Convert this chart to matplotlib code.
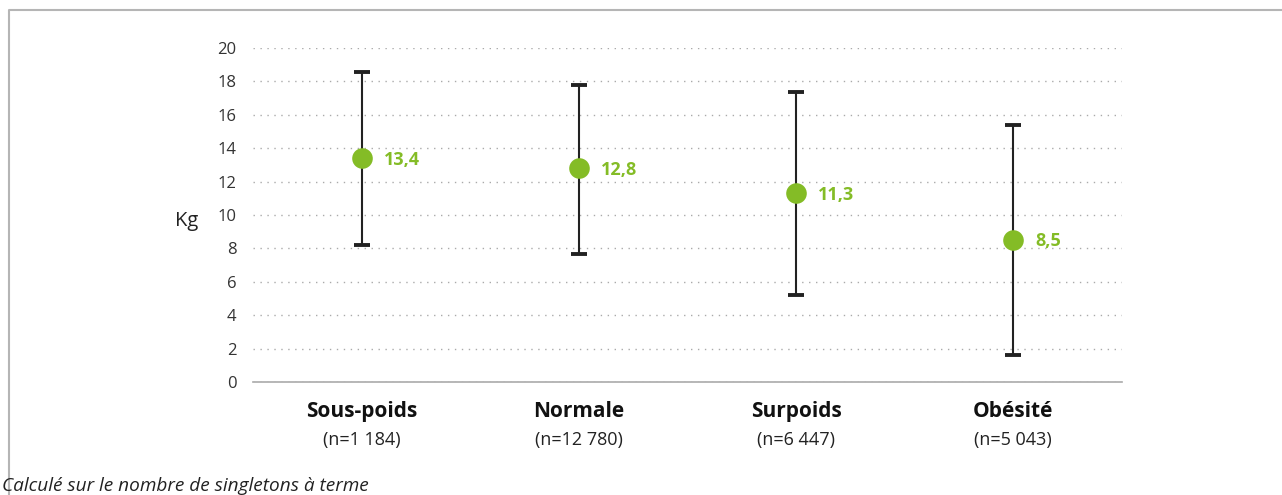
import numpy as np
import matplotlib
matplotlib.use("Agg")
import matplotlib.pyplot as plt
from matplotlib.lines import Line2D

plt.rcParams['font.family'] = ['Open Sans', 'DejaVu Sans']

categories = ['Sous-poids', 'Normale', 'Surpoids', 'Obésité']
counts = ['(n=1 184)', '(n=12 780)', '(n=6 447)', '(n=5 043)']
means = [13.4, 12.8, 11.3, 8.5]
upper = [18.55, 17.8, 17.35, 15.4]
lower = [8.2, 7.65, 5.2, 1.6]
labels = ['13,4', '12,8', '11,3', '8,5']

green = '#84BC26'

fig = plt.figure(figsize=(12.82, 4.95), dpi=100)
ax = fig.add_axes([0.1973, 0.2283, 0.6779, 0.6747])

x = np.arange(len(categories))
means_a = np.array(means)
yerr = [means_a - np.array(lower), np.array(upper) - means_a]
ax.errorbar(x, means, yerr=yerr, fmt='none', ecolor='#222222', elinewidth=1.5,
            capsize=5.8, capthick=2.8, zorder=2)
ax.scatter(x, means, s=220, color=green, zorder=3, linewidths=0)
for xi, m, lab in zip(x, means, labels):
    ax.annotate(lab, (xi, m), xytext=(16, -1), textcoords='offset points',
                color=green, fontsize=13, fontweight='bold', va='center', ha='left')

ax.set_xlim(-0.5, len(categories) - 0.5)
ax.set_ylim(0, 20)
ax.set_yticks(range(0, 21, 2))
ax.set_yticklabels([str(v) for v in range(0, 21, 2)], fontsize=12, color='#333333')
ax.grid(axis='y', linestyle=(0, (1, 4)), color='#aaaaaa', linewidth=1)
ax.set_axisbelow(True)
for s in ['top', 'right', 'left']:
    ax.spines[s].set_visible(False)
ax.spines['bottom'].set_color('#aaaaaa')
ax.spines['bottom'].set_linewidth(1.2)
ax.tick_params(axis='y', length=0, pad=12)
ax.tick_params(axis='x', length=0)
ax.set_xticks(x)
ax.set_xticklabels([])
for xi, c, n in zip(x, categories, counts):
    ax.text(xi, -1.75, c, ha='center', va='center', fontsize=15, fontweight='bold',
            color='#111111', transform=ax.transData, clip_on=False)
    ax.text(xi, -3.45, n, ha='center', va='center', fontsize=13,
            color='#222222', transform=ax.transData, clip_on=False)

fig.text(187 / 1282, 1 - 221 / 495, 'Kg', fontsize=14.5, ha='center', va='center', color='#222222')
fig.text(2 / 1282, 1 - 486 / 495, 'Calculé sur le nombre de singletons à terme',
         fontsize=13.7, style='italic', ha='left', va='center', color='#222222')

# frame on left and top
fig.add_artist(Line2D([9 / 1282, 9 / 1282, 1.0], [0.0, 1 - 10 / 495, 1 - 10 / 495],
                      transform=fig.transFigure, color='#b5b5b5', linewidth=1.5))

fig.savefig('out.png', dpi=100)
